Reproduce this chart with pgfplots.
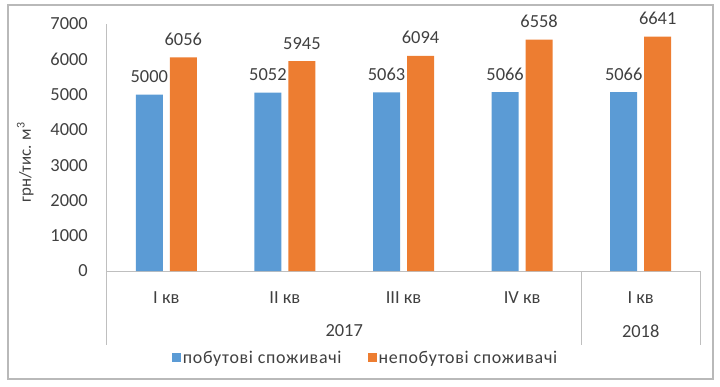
\documentclass[border=0pt]{standalone}
\usepackage{pgfplots}
\pgfplotsset{compat=1.18}
\usepackage{fontspec}
\setmainfont{Carlito}
\newfontfamily\legfont[LetterSpace=4]{Carlito}
\definecolor{cblue}{HTML}{5B9BD5}
\definecolor{corange}{HTML}{ED7D31}
\definecolor{axgray}{HTML}{BFBFBF}
\definecolor{txt}{HTML}{404040}
\begin{document}
\begin{tikzpicture}[x=1bp,y=1bp]
\useasboundingbox (-107,-115) rectangle (613,271);
\draw[color=gray!55, line width=1.2bp] (-99,-108) rectangle (606,266);
\begin{axis}[
  at={(0,0)}, anchor=south west,
  scale only axis, width=593bp, height=247bp,
  xmin=-0.5, xmax=4.5, ymin=0, ymax=7000,
  ybar=7bp, bar width=27bp,
  axis x line=bottom, axis y line=left,
  axis line style={-, draw=axgray, line width=1bp},
  major tick length=0pt,
  xtick={0,1,2,3,4},
  xticklabels={I кв, II кв, III кв, IV кв, I кв},
  ytick={0,1000,...,7000},
  /pgf/number format/assume math mode=true,
  /pgf/number format/1000 sep={},
  /pgf/number format/fixed, /pgf/number format/precision=0,
  tick label style={font=\fontsize{18.5}{18.5}\selectfont, text=txt},
  yticklabel style={anchor=east, inner sep=0pt, xshift=-19bp},
  xticklabel style={anchor=center, inner sep=0pt, yshift=-27bp},
  ylabel={грн/тис. м\textsuperscript{3}},
  ylabel style={at={(axis description cs:-0.138,0.44)}, anchor=center, rotate=0, font=\fontsize{17}{17}\selectfont, text=txt},
  nodes near coords,
  every node near coord/.append style={anchor=base, inner sep=0pt, yshift=12bp, font=\fontsize{18.5}{18.5}\selectfont, text=txt},
  legend style={draw=none, at={(axis description cs:0.436,-0.352)}, anchor=center, font=\legfont\fontsize{18}{18}\selectfont, text=txt, legend columns=2},
  legend image code/.code={\fill[#1] (0bp,-4.5bp) rectangle (9bp,4.5bp);},
  /tikz/every even column/.append style={column sep=24bp},
  clip=false,
]
\addplot[fill=cblue, draw=none] coordinates {(0,5000) (1,5052) (2,5063) (3,5066) (4,5066)};
\addplot[fill=corange, draw=none] coordinates {(0,6056) (1,5945) (2,6094) (3,6558) (4,6641)};
\legend{побутові споживачі, непобутові споживачі}
\draw[axgray, line width=1bp] (axis cs:-0.5,0) -- ++(0bp,-74bp);
\draw[axgray, line width=1bp] (axis cs:3.5,0) -- ++(0bp,-74bp);
\draw[axgray, line width=1bp] (axis cs:4.5,0) -- ++(0bp,-74bp);
\node[font=\fontsize{18.5}{18.5}\selectfont, text=txt] at ([yshift=-60bp]axis cs:1.5,0) {2017};
\node[font=\fontsize{18.5}{18.5}\selectfont, text=txt] at ([yshift=-60bp]axis cs:4,0) {2018};
\end{axis}
\end{tikzpicture}
\end{document}
